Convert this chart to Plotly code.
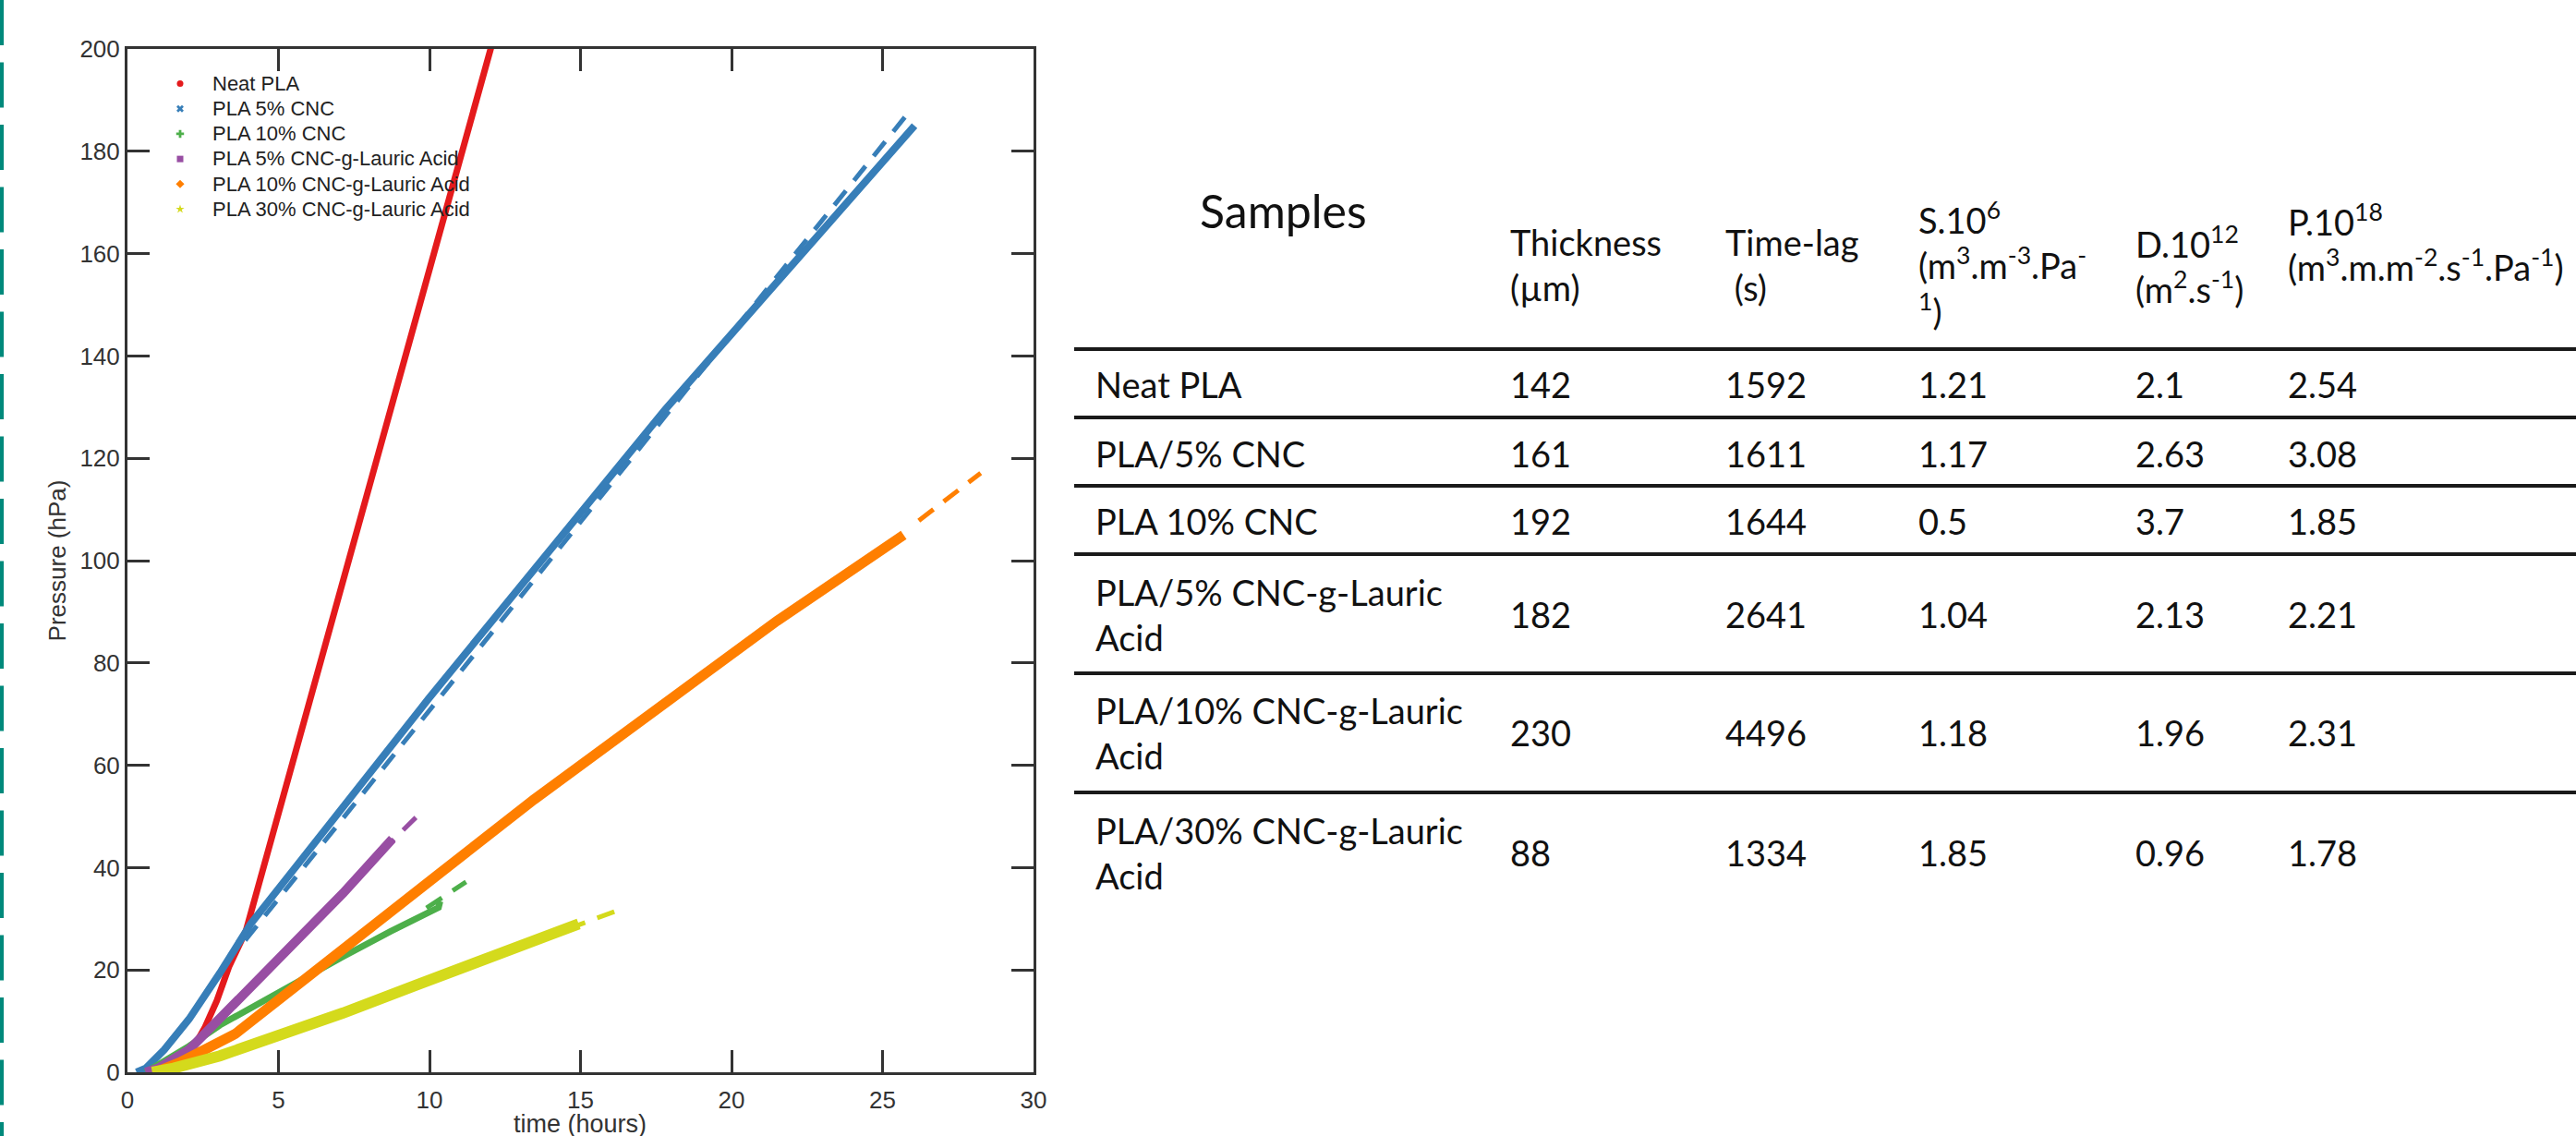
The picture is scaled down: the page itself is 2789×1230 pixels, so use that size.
import plotly.graph_objects as go

# --- permeation curves (time in hours, pressure in hPa) ---
samples = ["Neat PLA", "PLA 5% CNC", "PLA 10% CNC", "PLA 5% CNC-g-Lauric Acid",
           "PLA 10% CNC-g-Lauric Acid", "PLA 30% CNC-g-Lauric Acid"]

t_neat = [0.9, 1.5, 2.2, 2.55, 2.96, 3.36, 3.92, 4.38, 5.0, 6.0, 8.0, 10.0, 12.1]
p_neat = [0, 1.2, 5.0, 8.6, 14.0, 20.6, 27.6, 37.3, 50.4, 71.7, 114.3, 156.9, 201.6]

t_cnc5 = [0.3, 0.61, 1.22, 2.04, 3.06, 4.08, 5.5, 7.14, 8.46, 9.97, 12.5, 15.14, 17.8, 21.0, 26.06]
p_cnc5 = [0, 0.8, 4.4, 10.4, 19.4, 29.0, 39.6, 51.9, 61.5, 73.0, 91.3, 110.4, 129.5, 151.0, 185.0]

t_cnc10 = [0.6, 1.02, 2.04, 3.06, 4.5, 5.71, 7.14, 8.7, 10.3, 10.35]
p_cnc10 = [0, 1.4, 5.1, 9.2, 14.0, 17.8, 22.6, 27.5, 32.2, 33.4]

t_la5 = [0.6, 1.02, 2.04, 3.57, 5.1, 7.14, 8.77]
p_la5 = [0, 0.8, 4.4, 13.4, 22.4, 35.0, 45.6]

t_la10 = [0.92, 1.73, 3.57, 5.1, 7.14, 10.19, 13.46, 17.8, 21.5, 25.7]
p_la10 = [0, 1.9, 7.5, 14.7, 23.7, 38.2, 53.3, 72.3, 88.2, 105.0]

t_la30 = [0.82, 1.53, 3.06, 5.1, 7.14, 9.54, 12.0, 14.94]
p_la30 = [0, 0.8, 3.2, 7.2, 11.6, 17.0, 22.6, 29.0]

# linear (steady state) fits, drawn dashed
fit_t_cnc5 = [3.9, 26.0]
fit_p_cnc5 = [25.8, 188.6]
fit_t_cnc10 = [9.9, 11.21]
fit_p_cnc10 = [32.1, 37.2]
fit_t_la5 = [8.39, 9.55]
fit_p_la5 = [43.0, 49.8]
fit_t_la10 = [26.2, 28.25]
fit_p_la10 = [107.8, 117.1]
fit_t_la30 = [14.58, 16.12]
fit_p_la30 = [28.0, 31.4]

# --- table ---
header_samples = "Samples"
headers = ["Thickness<br>(µm)", "Time-lag<br> (s)",
           "S.10<sup>6</sup><br>(m<sup>3</sup>.m<sup>-3</sup>.Pa<sup>-</sup><br><sup>1</sup>)",
           "D.10<sup>12</sup><br>(m<sup>2</sup>.s<sup>-1</sup>)",
           "P.10<sup>18</sup><br>(m<sup>3</sup>.m.m<sup>-2</sup>.s<sup>-1</sup>.Pa<sup>-1</sup>)"]
table_samples = ["Neat PLA", "PLA/5% CNC", "PLA 10% CNC", "PLA/5% CNC-g-Lauric<br>Acid",
                 "PLA/10% CNC-g-Lauric<br>Acid", "PLA/30% CNC-g-Lauric<br>Acid"]
thickness = ["142", "161", "192", "182", "230", "88"]
time_lag = ["1592", "1611", "1644", "2641", "4496", "1334"]
solubility = ["1.21", "1.17", "0.5", "1.04", "1.18", "1.85"]
diffusivity = ["2.1", "2.63", "3.7", "2.13", "1.96", "0.96"]
permeability = ["2.54", "3.08", "1.85", "2.21", "2.31", "1.78"]

# --- styling ---
W, H = 2789, 1230
colors = ["#E41A1C", "#377EB8", "#4DAF4A", "#984EA3", "#FF7F00", "#D4DA1C"]
widths = [7, 8, 7, 10, 11, 12]
symbols = ["circle", "x", "cross", "square", "diamond", "star"]
axis_font = "Liberation Sans, Arial, sans-serif"
table_font = "Lato, Calibri, sans-serif"


def px_x(x):
    return x / W


def px_y(y):
    return 1 - y / H


fig = go.Figure()

curves = [(t_neat, p_neat), (t_cnc5, p_cnc5), (t_cnc10, p_cnc10),
          (t_la5, p_la5), (t_la10, p_la10), (t_la30, p_la30)]
fits = [None, (fit_t_cnc5, fit_p_cnc5), (fit_t_cnc10, fit_p_cnc10),
        (fit_t_la5, fit_p_la5), (fit_t_la10, fit_p_la10), (fit_t_la30, fit_p_la30)]

for i, (t, p) in enumerate(curves):
    fig.add_trace(go.Scatter(x=t, y=p, mode="lines", showlegend=False,
                             line=dict(color=colors[i], width=widths[i])))
    if fits[i] is not None:
        fig.add_trace(go.Scatter(x=fits[i][0], y=fits[i][1], mode="lines", showlegend=False,
                                 line=dict(color=colors[i], width=5, dash="20px,14px")))

# legend entries: small markers only (row height from size 18.6, text drawn at 22px)
for i, name in enumerate(samples):
    fig.add_trace(go.Scatter(x=[None], y=[None], mode="markers",
                             name='<span style="font-size:22px">' + name + "</span>",
                             marker=dict(color=colors[i], size=7, symbol=symbols[i])))

axis_common = dict(showline=True, linewidth=3, linecolor="#333", mirror="ticks",
                   ticks="inside", ticklen=24, tickwidth=3, tickcolor="#333",
                   showgrid=False, zeroline=False, automargin=False,
                   tickfont=dict(family=axis_font, size=26, color="#333"))

fig.update_layout(
    width=W, height=H,
    margin=dict(l=0, r=0, t=0, b=0, pad=0),
    paper_bgcolor="white", plot_bgcolor="white",
    xaxis=dict(domain=[px_x(138), px_x(1119)], range=[0, 30], dtick=5,
               ticklabelstandoff=5, **axis_common),
    yaxis=dict(domain=[px_y(1161), px_y(53)], range=[0, 200], dtick=20,
               title=dict(text="Pressure (hPa)", font=dict(family=axis_font, size=26, color="#333"),
                          standoff=8),
               **axis_common),
    legend=dict(x=px_x(160), y=px_y(72), xanchor="left", yanchor="top", itemwidth=60,
                font=dict(family=axis_font, size=18.6, color="#222"),
                bgcolor="rgba(0,0,0,0)", tracegroupgap=0),
)

# x axis title sits low, its bottom just touching the lower edge as in the original
fig.add_annotation(text="time (hours)", x=px_x(628), y=px_y(1217), xref="paper", yref="paper",
                   xanchor="center", yanchor="middle", showarrow=False,
                   font=dict(family=axis_font, size=27, color="#333"))

# dashed teal rule at the left edge
fig.add_shape(type="line", xref="paper", yref="paper", x0=px_x(2), x1=px_x(2), y0=1, y1=0,
              line=dict(color="#00897B", width=4, dash="49px,18.5px"))

# table
col_x = [1633, 1866, 2075, 2310, 2475]
header_y = [286, 286, 285, 286, 262]
row_y = [416, 491, 564, 665, 793, 923]
rule_y = [378, 452, 526, 600, 729, 858]

fig.add_annotation(text=header_samples, x=px_x(1297), y=px_y(228), xref="paper", yref="paper",
                   xanchor="left", yanchor="middle", showarrow=False,
                   font=dict(family=table_font, size=50, color="#111"))
for j, h in enumerate(headers):
    fig.add_annotation(text=h, x=px_x(col_x[j]), y=px_y(header_y[j]), xref="paper", yref="paper",
                       xanchor="left", yanchor="middle", align="left", showarrow=False,
                       font=dict(family=table_font, size=38, color="#111"))

columns = [thickness, time_lag, solubility, diffusivity, permeability]
for i, name in enumerate(table_samples):
    fig.add_annotation(text=name, x=px_x(1184), y=px_y(row_y[i]), xref="paper", yref="paper",
                       xanchor="left", yanchor="middle", align="left", showarrow=False,
                       font=dict(family=table_font, size=38, color="#111"))
    for j, col in enumerate(columns):
        fig.add_annotation(text=col[i], x=px_x(col_x[j]), y=px_y(row_y[i]), xref="paper",
                           yref="paper", xanchor="left", yanchor="middle", showarrow=False,
                           font=dict(family=table_font, size=38, color="#111"))

for y in rule_y:
    fig.add_shape(type="line", xref="paper", yref="paper", x0=px_x(1163), x1=1,
                  y0=px_y(y), y1=px_y(y), line=dict(color="#1a1a1a", width=4))

# the page body keeps no default margin, so the figure fills the window exactly
fig.write_html("out.html", post_script="document.body.style.margin='0';",
               config={"displayModeBar": False})
